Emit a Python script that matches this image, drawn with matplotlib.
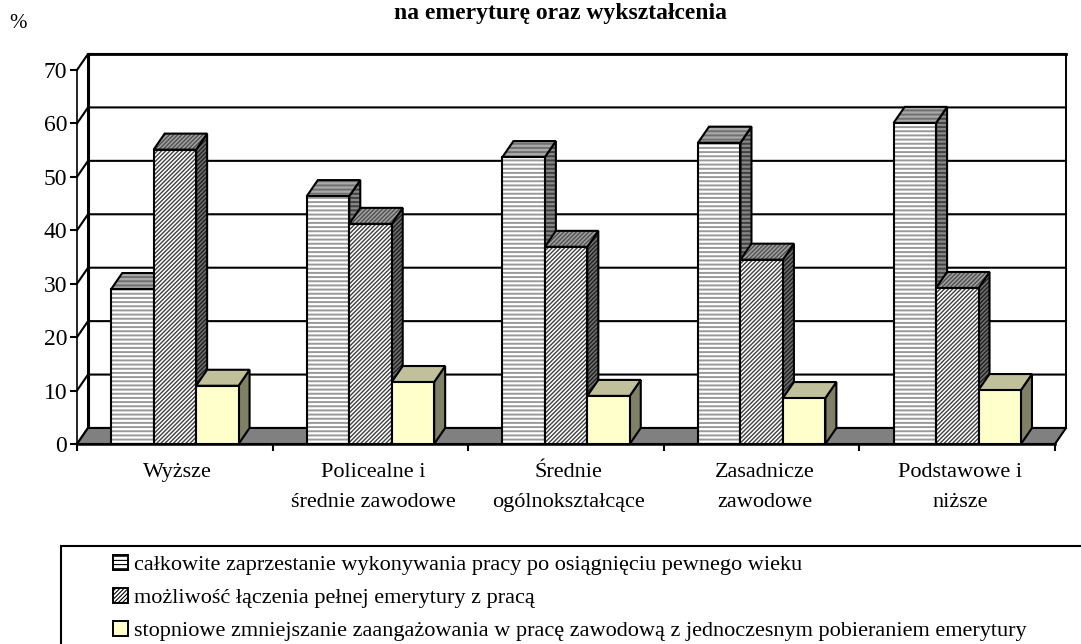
import matplotlib
matplotlib.use('Agg')
import matplotlib.pyplot as plt
from matplotlib.patches import Patch, Rectangle

plt.rcParams['font.family'] = ['Liberation Serif', 'DejaVu Serif']

categories = ['Wyższe', 'Policealne i\nśrednie zawodowe', 'Średnie\nogólnokształcące',
              'Zasadnicze\nzawodowe', 'Podstawowe i\nniższe']
calkowite = [29.0, 46.4, 53.7, 56.4, 60.1]
laczenie = [55.1, 41.2, 36.9, 34.5, 29.2]
stopniowe = [10.9, 11.6, 9.0, 8.6, 10.1]
yticks = [0, 10, 20, 30, 40, 50, 60, 70]
legend_labels = ['całkowite zaprzestanie wykonywania pracy po osiągnięciu pewnego wieku',
                 'możliwość łączenia pełnej emerytury z pracą',
                 'stopniowe zmniejszanie zaangażowania w pracę zawodową z jednoczesnym pobieraniem emerytury']

W, H = 1081, 644
fig = plt.figure(figsize=(W / 100, H / 100), dpi=100)
ax = fig.add_axes([77 / W, (H - 444) / H, 978 / W, 374 / H])
ax.set_xlim(0, 5)
ax.set_ylim(0, 70)
for s in ax.spines.values():
    s.set_visible(False)

# depth of the fake 3d box, in data units
dx = 11 / 195.6
dy = 16 / 5.34
bar_w = 0.217
start = 0.175
stripes = '----'
diag = '/' * 8

# walls
for y in yticks:
    ax.plot([0, dx, 5 + dx], [y, y + dy, y + dy], color='black', lw=1.5, clip_on=False, zorder=1)
ax.plot([dx, dx], [dy, 70 + dy], color='black', lw=2.2, clip_on=False, zorder=1)
ax.plot([0, 0], [0, 70], color='black', lw=1.2, clip_on=False, zorder=1)
ax.plot([5 + dx, 5 + dx], [dy, 70 + dy], color='black', lw=1.4, clip_on=False, zorder=1)
ax.plot([dx, 5 + dx], [70 + dy, 70 + dy], color='black', lw=2.0, clip_on=False, zorder=1)

# floor
ax.fill([0, 5, 5 + dx, dx], [0, 0, dy, dy], facecolor='#808080', edgecolor='black', lw=1.5,
        clip_on=False, zorder=2)


def face(xs, ys, fc, hatch, hatch_col, z):
    if hatch:
        plt.rcParams['hatch.linewidth'] = 1.4 if hatch[0] == '-' else 1.0
        ax.fill(xs, ys, facecolor=fc, edgecolor=hatch_col, hatch=hatch, lw=0, clip_on=False, zorder=z)
        ax.fill(xs, ys, facecolor='none', edgecolor='black', lw=1.5, clip_on=False, zorder=z)
    else:
        ax.fill(xs, ys, facecolor=fc, edgecolor='black', lw=1.5, clip_on=False, zorder=z)


def bar(x, val, styles, z):
    front, top, side = styles
    face([x + bar_w, x + bar_w + dx, x + bar_w + dx, x + bar_w],
         [0, dy, val + dy, val], side[0], side[1], side[2], z)
    face([x, x + dx, x + bar_w + dx, x + bar_w],
         [val, val + dy, val + dy, val], top[0], top[1], top[2], z)
    face([x, x + bar_w, x + bar_w, x], [0, 0, val, val], front[0], front[1], front[2], z)


style1 = (('white', stripes, '#999999'), ('#aaaaaa', stripes, '#707070'), ('#888888', stripes, '#404040'))
style2 = (('white', diag, '#404040'), ('#a0a0a0', diag, '#505050'), ('#707070', diag, '#202020'))
style3 = (('#FFFFCC', None, None), ('#C0C09A', None, None), ('#808066', None, None))

z = 3
for i in range(len(categories)):
    bar(i + start, calkowite[i], style1, z)
    bar(i + start + bar_w, laczenie[i], style2, z + 1)
    bar(i + start + 2 * bar_w, stopniowe[i], style3, z + 2)
    z += 3

# axes ticks
ax.set_yticks(yticks)
ax.tick_params(axis='y', length=5, width=1.5, labelsize=17, pad=2)
ax.set_xticks(range(6))
ax.set_xticklabels([])
ax.tick_params(axis='x', which='major', length=5, width=1.5)
ax.set_xticks([i + 0.515 for i in range(5)], minor=True)
ax.set_xticklabels(categories, minor=True, fontsize=16, linespacing=1.75)
ax.tick_params(axis='x', which='minor', length=0, pad=14)
ax.plot([0, 5], [0, 0], color='black', lw=1.8, clip_on=False, zorder=40)

fig.text(561 / W, 1 - 14 / H, 'na emeryturę oraz wykształcenia', fontsize=17, fontweight='bold',
         ha='center', va='center')
fig.text(18 / W, 1 - 24 / H, '%', fontsize=15, ha='center', va='center')

# legend
fig.add_artist(Rectangle((61 / W, -0.05), 1.05, (H - 546) / H + 0.05, transform=fig.transFigure,
                         facecolor='white', edgecolor='black', lw=1.5))
plt.rcParams['hatch.linewidth'] = 0.8
handles = [Patch(facecolor='white', edgecolor='black', hatch=stripes, lw=1.4),
           Patch(facecolor='white', edgecolor='black', hatch=diag, lw=1.4),
           Patch(facecolor='#FFFFCC', edgecolor='black', lw=1.4)]
fig.legend(handles, legend_labels, frameon=False, loc='upper left',
           bbox_to_anchor=(113 / W, 1 - 555 / H), borderpad=0, borderaxespad=0,
           fontsize=16, handlelength=0.66, handleheight=0.66, handletextpad=0.3, labelspacing=0.57)

fig.savefig('out.png', dpi=100)
